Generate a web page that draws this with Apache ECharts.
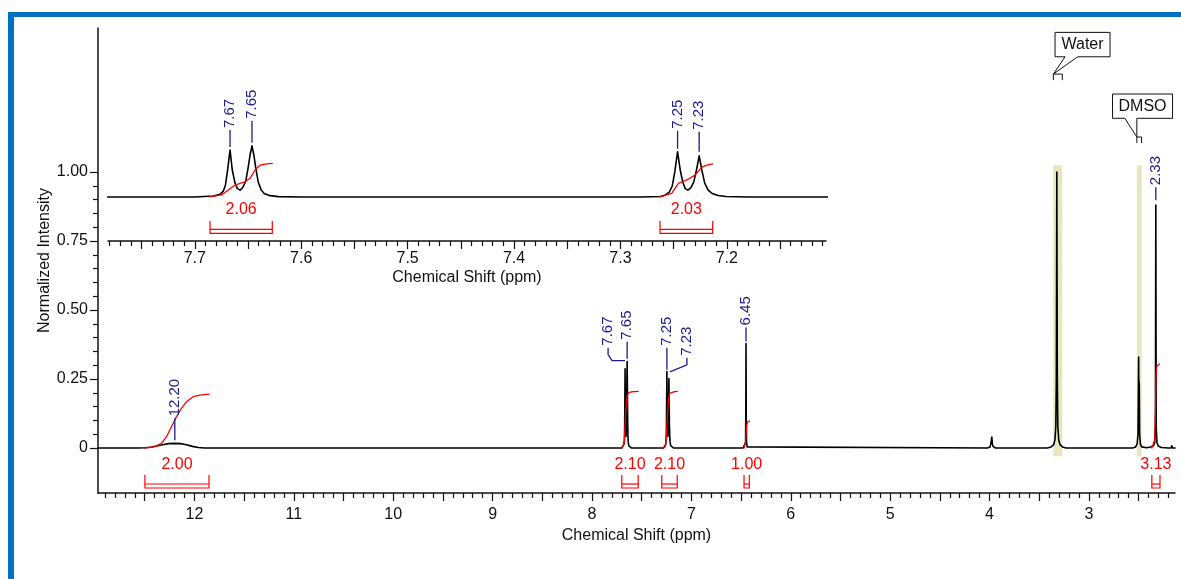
<!DOCTYPE html>
<html>
<head>
<meta charset="utf-8">
<title>1H NMR spectrum</title>
<script src="https://cdn.jsdelivr.net/npm/echarts@6/dist/echarts.min.js"></script>
<style>
  html, body { margin: 0; padding: 0; background: #ffffff; }
  #chart { width: 1181px; height: 579px; }
</style>
</head>
<body>
<div id="chart"></div>
<script>
// ---------------- spectrum: [chemical shift (ppm), normalized intensity] ----------------
const spectrumStart = [[12.97, 0]];
const peakNH = [[12.56, 0], [12.50, 0.001], [12.44, 0.003], [12.38, 0.007], [12.32, 0.012], [12.26, 0.016],
  [12.197, 0.017], [12.14, 0.016], [12.08, 0.012], [12.02, 0.006], [11.96, 0.002], [11.90, 0]];
const doubletA = [[7.70, 0], [7.6826, 0.006], [7.6763, 0.016], [7.6732, 0.036], [7.6713, 0.07], [7.6692, 0.165],
  [7.6669, 0.287], [7.6648, 0.165], [7.6622, 0.085], [7.660, 0.051], [7.6575, 0.042], [7.6549, 0.058],
  [7.6521, 0.097], [7.6498, 0.183], [7.6481, 0.257], [7.6463, 0.313], [7.6445, 0.257], [7.6427, 0.177],
  [7.6404, 0.091], [7.6376, 0.042], [7.6348, 0.021], [7.6294, 0.008], [7.6216, 0.002], [7.60, 0]];
const doubletB = [[7.28, 0], [7.2625, 0.003], [7.2578, 0.012], [7.2541, 0.030], [7.2513, 0.067], [7.2489, 0.153],
  [7.2463, 0.277], [7.2438, 0.165], [7.2414, 0.091], [7.2391, 0.051], [7.2366, 0.042], [7.2339, 0.055],
  [7.2311, 0.091], [7.2285, 0.165], [7.226, 0.252], [7.2235, 0.165], [7.2208, 0.085], [7.2175, 0.042],
  [7.2138, 0.021], [7.2082, 0.009], [7.2007, 0.003], [7.18, 0]];
const singlet645 = [[6.48, 0], [6.462, 0.004], [6.455, 0.02], [6.452, 0.12], [6.45, 0.379], [6.448, 0.12],
  [6.445, 0.02], [6.438, 0.004], [6.42, 0]];
const multiplet398 = [[4.02, 0], [3.995, 0.004], [3.988, 0.014], [3.984, 0.018], [3.977, 0.04], [3.972, 0.016],
  [3.965, 0.006], [3.955, 0.002], [3.94, 0]];
const waterPeak = [[3.42, 0], [3.38, 0.004], [3.355, 0.012], [3.342, 0.03], [3.333, 0.08], [3.328, 0.25],
  [3.3255, 0.6], [3.323, 1.0], [3.3205, 0.6], [3.318, 0.25], [3.313, 0.08], [3.304, 0.03], [3.291, 0.012],
  [3.266, 0.004], [3.23, 0]];
const dmsoPeak = [[2.56, 0], [2.53, 0.004], [2.515, 0.015], [2.506, 0.05], [2.5, 0.33], [2.497, 0.12],
  [2.494, 0.24], [2.49, 0.05], [2.482, 0.015], [2.47, 0.004], [2.45, 0.001]];
const singlet233 = [[2.42, 0.001], [2.38, 0.004], [2.35, 0.008], [2.338, 0.02], [2.331, 0.08], [2.327, 0.88],
  [2.323, 0.08], [2.316, 0.02], [2.30, 0.006], [2.27, 0.002], [2.2, 0]];
const blip217 = [[2.175, 0], [2.166, 0.008], [2.158, 0]];
const spectrumEnd = [[2.134, 0]];

// ---------------- integral traces (full view) ----------------
const integralNH = [[12.498, 0], [12.398, 0.005], [12.331, 0.017], [12.281, 0.041], [12.231, 0.077],
  [12.181, 0.113], [12.13, 0.144], [12.08, 0.168], [12.013, 0.186], [11.946, 0.192], [11.853, 0.195]];
const integralA = [[7.70, 0], [7.685, 0.003], [7.676, 0.015], [7.67, 0.06], [7.662, 0.12], [7.654, 0.165],
  [7.645, 0.19], [7.632, 0.2], [7.61, 0.203], [7.58, 0.204], [7.535, 0.205]];
const integralB = [[7.298, 0], [7.265, 0.004], [7.253, 0.03], [7.245, 0.09], [7.237, 0.14], [7.228, 0.18],
  [7.218, 0.198], [7.2, 0.203], [7.17, 0.204], [7.142, 0.205]];
const integral645 = [[6.470, 0], [6.460, 0.004], [6.455, 0.02], [6.45, 0.05], [6.445, 0.08], [6.437, 0.093],
  [6.417, 0.0975]];
const integral233 = [[2.367, 0], [2.35, 0.005], [2.338, 0.03], [2.33, 0.15], [2.325, 0.26], [2.318, 0.295],
  [2.31, 0.302], [2.29, 0.305]];

// ---------------- integral traces (expanded aromatic view) ----------------
const insetIntegralA = [[7.6857, 0], [7.6747, 0.012], [7.6685, 0.042], [7.6622, 0.073], [7.6575, 0.083],
  [7.6528, 0.093], [7.6481, 0.114], [7.6434, 0.165], [7.6387, 0.195], [7.6324, 0.202], [7.6272, 0.206]];
const insetIntegralB = [[7.2628, 0], [7.2518, 0.022], [7.2456, 0.083], [7.2377, 0.104], [7.2299, 0.134],
  [7.2236, 0.181], [7.2189, 0.195], [7.2133, 0.203]];

// ---------------- integral ranges and values ----------------
const integralRanges = [[12.498, 11.853], [7.70, 7.535], [7.298, 7.142], [6.470, 6.417], [2.367, 2.285]];
const integralValues = [2.00, 2.10, 2.10, 1.00, 3.13];
const insetIntegralRanges = [[7.6857, 7.6272], [7.2628, 7.2133]];
const insetIntegralValues = [2.06, 2.03];

// ---------------- picked peaks ----------------
const peakShifts = [12.197, 7.6669, 7.6463, 7.2463, 7.226, 6.45, 2.327];
const peakTops = [0.017, 0.313, 0.313, 0.276, 0.276, 0.379, 0.88];
const insetPeakShifts = [7.6669, 7.6463, 7.2463, 7.226];
const insetPeakTops = [0.287, 0.313, 0.277, 0.252];

// ---------------- solvent regions ----------------
const solventNames = ['Water', 'DMSO'];
const solventRanges = [[3.358, 3.268], [2.518, 2.470]];

// ---------------- axis ticks ----------------
const shiftTickLabels = [3, 4, 5, 6, 7, 8, 9, 10, 11, 12];
const intensityTickLabels = [0, 0.25, 0.5, 0.75, 1.0];
const insetShiftTickLabels = [7.2, 7.3, 7.4, 7.5, 7.6, 7.7];

// ---------------- drawing ----------------
const FONT = '"Liberation Sans", Arial, Helvetica, sans-serif';
const RED = '#ff0000';
const BLUE = '#1c1c8c';
const INK = '#111111';

const spectrum = [].concat(spectrumStart, peakNH, doubletA, doubletB, singlet645, multiplet398,
  waterPeak, dmsoPeak, singlet233, blip217, spectrumEnd);

// tick positions on a regular step inside [lo, hi], optionally skipping multiples of another step
function stepTicks(lo, hi, step, skip) {
  const out = [];
  for (let i = Math.ceil(lo / step - 1e-9); i * step <= hi + 1e-9; i++) {
    const v = Math.round(i * step * 10000) / 10000;
    if (skip && Math.abs(v / skip - Math.round(v / skip)) < 1e-6) continue;
    out.push(v);
  }
  return out;
}

const MAIN_X = [2.134, 12.97];
const MAIN_Y = [-0.163, 1.522];
const INSET_X = [7.1068, 7.7816];
const INSET_Y = [-0.27, 0.98];

const axisLineStyle = { color: INK, width: 1.5 };

// peak label connectors: straight dash (gap, len) or bent path relative to the peak top
const mainLabelLayout = [
  { gap: 3, len: 22 },
  { path: [[0, -1], [-13, -1], [-17, -7], [-17, -14]] },
  { gap: 3, len: 17 },
  { gap: 2, len: 22 },
  { path: [[1, 0], [18, -7], [18, -14]] },
  { gap: 2, len: 14 },
  { gap: 5, len: 13 }
];
const insetLabelLayout = [
  { gap: 3, len: 17 },
  { gap: 3, len: 22 },
  { gap: 3, len: 18 },
  { gap: 4, len: 20 }
];

function peakLabelRenderer(shifts, tops, layout) {
  return function (params, api) {
    const i = params.dataIndex;
    const p = api.coord([shifts[i], tops[i]]);
    const L = layout[i];
    let pts, tx, ty;
    if (L.path) {
      pts = L.path.map(d => [p[0] + d[0], p[1] + d[1]]);
      const last = pts[pts.length - 1];
      tx = last[0]; ty = last[1] - 2;
    } else {
      pts = [[p[0], p[1] - L.gap], [p[0], p[1] - L.gap - L.len]];
      tx = p[0]; ty = p[1] - L.gap - L.len - 2;
    }
    return {
      type: 'group',
      children: [
        { type: 'polyline', shape: { points: pts }, style: { stroke: BLUE, lineWidth: 1.3, fill: null } },
        { type: 'text', x: tx, y: ty, rotation: Math.PI / 2,
          style: { text: shifts[i].toFixed(2), fill: BLUE, font: '15px ' + FONT, align: 'left', verticalAlign: 'middle' } }
      ]
    };
  };
}

function bracketRenderer(ranges, values, off) {
  return function (params, api) {
    const i = params.dataIndex;
    const a = api.coord([ranges[i][0], 0]);
    const b = api.coord([ranges[i][1], 0]);
    const x0 = Math.min(a[0], b[0]), x1 = Math.max(a[0], b[0]), y = a[1];
    return {
      type: 'group',
      children: [
        { type: 'polyline',
          shape: { points: [[x0, y + off.vTop], [x0, y + off.bar2], [x1, y + off.bar2], [x1, y + off.vTop]] },
          style: { stroke: RED, lineWidth: 1.2, fill: null } },
        { type: 'line', shape: { x1: x0, y1: y + off.bar1, x2: x1, y2: y + off.bar1 },
          style: { stroke: RED, lineWidth: 1.2 } },
        { type: 'text', x: (x0 + x1) / 2, y: y + off.label,
          style: { text: values[i].toFixed(2), fill: RED, font: '16px ' + FONT, align: 'center', verticalAlign: 'middle' } }
      ]
    };
  };
}

// solvent highlight bands with callout boxes
const solventLayout = [
  { bandTop: 1.025, bandBottom: -0.03, tip: 1.355, box: [1.7, 56.7, -41.7, -17.3], notch: [11.7, 24.3] },
  { bandTop: 1.025, bandBottom: -0.03, tip: 1.127, box: [-24.3, 35.7, -43, -18.7], notch: [-12, 0] }
];
function solventRenderer(params, api) {
  const i = params.dataIndex;
  const L = solventLayout[i];
  const r = solventRanges[i];
  const tl = api.coord([r[0], L.bandTop]);
  const br = api.coord([r[1], L.bandBottom]);
  const t = api.coord([r[0], L.tip]);
  const w = br[0] - tl[0];
  const [bx0, bx1, by0, by1] = L.box;
  const [n0, n1] = L.notch;
  const T = (dx, dy) => [t[0] + dx, t[1] + dy];
  return {
    type: 'group',
    children: [
      { type: 'rect', shape: { x: tl[0], y: tl[1], width: w, height: br[1] - tl[1] },
        style: { fill: 'rgb(232,230,188)' } },
      { type: 'polygon',
        shape: { points: [T(bx0, by0), T(bx1, by0), T(bx1, by1), T(n1, by1), T(0, 0), T(n0, by1), T(bx0, by1)] },
        style: { fill: '#ffffff', stroke: INK, lineWidth: 1 } },
      { type: 'polyline', shape: { points: [T(0, 6), T(0, 0), T(w, 0), T(w, 6)] },
        style: { stroke: INK, lineWidth: 1, fill: null } },
      { type: 'text', x: t[0] + (bx0 + bx1) / 2, y: t[1] + (by0 + by1) / 2,
        style: { text: solventNames[i], fill: INK, font: '16px ' + FONT, align: 'center', verticalAlign: 'middle' } }
    ]
  };
}

const lineSeries = (data, xi, yi, color, width, z) => ({
  type: 'line', data, xAxisIndex: xi, yAxisIndex: yi, symbol: 'none', silent: true, clip: true,
  lineStyle: { color, width, join: 'round', cap: 'round' }, z: z || 3
});

const chart = echarts.init(document.getElementById('chart'), null, { renderer: 'canvas' });

const option = {
  animation: false,
  backgroundColor: '#ffffff',
  textStyle: { fontFamily: FONT },
  grid: [
    { left: 98, right: 6, top: 28, bottom: 86, containLabel: false },
    { left: 108, right: 355, top: 37, bottom: 338, containLabel: false }
  ],
  xAxis: [
    { // full spectrum shift axis
      type: 'value', gridIndex: 0, position: 'bottom', inverse: true, min: MAIN_X[0], max: MAIN_X[1],
      name: 'Chemical Shift (ppm)', nameLocation: 'middle', nameGap: 33,
      nameTextStyle: { fontSize: 16, color: INK, fontFamily: FONT },
      axisLine: { show: true, onZero: false, lineStyle: axisLineStyle },
      axisTick: { show: true, length: 8, lineStyle: { color: INK, width: 1.2 },
        customValues: stepTicks(MAIN_X[0], MAIN_X[1], 0.5) },
      axisLabel: { show: true, customValues: shiftTickLabels, margin: 14, fontSize: 16, color: INK, fontFamily: FONT,
        formatter: v => String(Math.round(v)) },
      splitLine: { show: false }
    },
    { // full spectrum minor ticks
      type: 'value', gridIndex: 0, position: 'bottom', inverse: true, min: MAIN_X[0], max: MAIN_X[1],
      axisLine: { show: false, onZero: false },
      axisTick: { show: true, length: 5, lineStyle: { color: INK, width: 1.2 },
        customValues: stepTicks(MAIN_X[0], MAIN_X[1], 0.1, 0.5) },
      axisLabel: { show: false }, splitLine: { show: false }
    },
    { // expanded aromatic shift axis
      type: 'value', gridIndex: 1, position: 'bottom', inverse: true, min: INSET_X[0], max: INSET_X[1],
      name: 'Chemical Shift (ppm)', nameLocation: 'middle', nameGap: 29,
      nameTextStyle: { fontSize: 16, color: INK, fontFamily: FONT },
      axisLine: { show: true, onZero: false, lineStyle: axisLineStyle },
      axisTick: { show: true, length: 8, lineStyle: { color: INK, width: 1.2 },
        customValues: stepTicks(INSET_X[0], INSET_X[1], 0.05) },
      axisLabel: { show: true, customValues: insetShiftTickLabels, margin: 10, fontSize: 16, color: INK, fontFamily: FONT,
        formatter: v => v.toFixed(1) },
      splitLine: { show: false }
    },
    { // expanded aromatic minor ticks
      type: 'value', gridIndex: 1, position: 'bottom', inverse: true, min: INSET_X[0], max: INSET_X[1],
      axisLine: { show: false, onZero: false },
      axisTick: { show: true, length: 5, lineStyle: { color: INK, width: 1.2 },
        customValues: stepTicks(INSET_X[0], INSET_X[1], 0.01, 0.05) },
      axisLabel: { show: false }, splitLine: { show: false }
    }
  ],
  yAxis: [
    {
      type: 'value', gridIndex: 0, position: 'left', min: MAIN_Y[0], max: MAIN_Y[1],
      name: 'Normalized Intensity', nameLocation: 'middle', nameGap: 45, nameMoveOverlap: false,
      nameTextStyle: { fontSize: 16, color: INK, fontFamily: FONT },
      axisLine: { show: true, onZero: false, lineStyle: axisLineStyle },
      axisTick: { show: true, length: 8, lineStyle: { color: INK, width: 1.2 }, customValues: intensityTickLabels },
      axisLabel: { show: true, customValues: intensityTickLabels, margin: 10, fontSize: 16, color: INK, fontFamily: FONT,
        formatter: v => (v === 0 ? '0' : v.toFixed(2)) },
      splitLine: { show: false }
    },
    {
      type: 'value', gridIndex: 0, position: 'left', min: MAIN_Y[0], max: MAIN_Y[1],
      axisLine: { show: false, onZero: false },
      axisTick: { show: true, length: 5, lineStyle: { color: INK, width: 1.2 },
        customValues: stepTicks(0, 1, 0.05, 0.25) },
      axisLabel: { show: false }, splitLine: { show: false }
    },
    {
      type: 'value', gridIndex: 1, show: false, min: INSET_Y[0], max: INSET_Y[1]
    }
  ],
  series: [
    { type: 'custom', coordinateSystem: 'cartesian2d', xAxisIndex: 0, yAxisIndex: 0, silent: true, z: 1,
      data: solventRanges.map(r => [r[0], 0]), renderItem: solventRenderer },
    lineSeries(spectrum, 0, 0, '#000000', 1.6, 3),
    lineSeries(integralNH, 0, 0, RED, 1.3, 4),
    lineSeries(integralA, 0, 0, RED, 1.3, 4),
    lineSeries(integralB, 0, 0, RED, 1.3, 4),
    lineSeries(integral645, 0, 0, RED, 1.3, 4),
    lineSeries(integral233, 0, 0, RED, 1.3, 4),
    { type: 'custom', coordinateSystem: 'cartesian2d', xAxisIndex: 0, yAxisIndex: 0, silent: true, z: 5,
      data: peakShifts.map((s, i) => [s, peakTops[i]]),
      renderItem: peakLabelRenderer(peakShifts, peakTops, mainLabelLayout) },
    { type: 'custom', coordinateSystem: 'cartesian2d', xAxisIndex: 0, yAxisIndex: 0, silent: true, z: 5,
      data: integralRanges.map(r => [r[0], 0]),
      renderItem: bracketRenderer(integralRanges, integralValues, { label: 17, vTop: 27, bar1: 36, bar2: 40 }) },

    lineSeries(spectrum, 2, 2, '#000000', 1.6, 3),
    lineSeries(insetIntegralA, 2, 2, RED, 1.3, 4),
    lineSeries(insetIntegralB, 2, 2, RED, 1.3, 4),
    { type: 'custom', coordinateSystem: 'cartesian2d', xAxisIndex: 2, yAxisIndex: 2, silent: true, z: 5,
      data: insetPeakShifts.map((s, i) => [s, insetPeakTops[i]]),
      renderItem: peakLabelRenderer(insetPeakShifts, insetPeakTops, insetLabelLayout) },
    { type: 'custom', coordinateSystem: 'cartesian2d', xAxisIndex: 2, yAxisIndex: 2, silent: true, z: 5,
      data: insetIntegralRanges.map(r => [r[0], 0]),
      renderItem: bracketRenderer(insetIntegralRanges, insetIntegralValues, { label: 13, vTop: 24, bar1: 32.5, bar2: 36.5 }) }
  ],
  graphic: [
    { type: 'rect', shape: { x: 8, y: 12, width: 1173, height: 5 }, style: { fill: '#0070c0' }, z: 100 },
    { type: 'rect', shape: { x: 8, y: 12, width: 6, height: 567 }, style: { fill: '#0070c0' }, z: 100 }
  ]
};

chart.setOption(option);
</script>
</body>
</html>
